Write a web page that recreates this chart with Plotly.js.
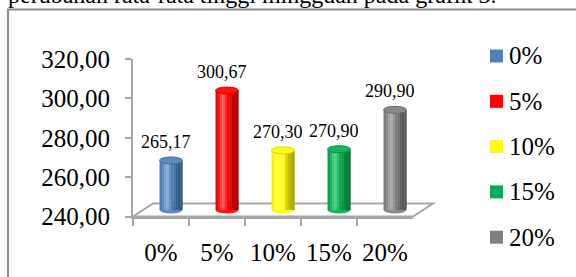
<!DOCTYPE html>
<html>
<head>
<meta charset="utf-8">
<script src="https://cdn.plot.ly/plotly-3.0.1.min.js"></script>
<style>html,body{margin:0;padding:0;background:#fff;}#chart{width:576px;height:277px;}</style>
</head>
<body>
<div id="chart"></div>
<script>
// ---- data ----
const categories = ['0%', '5%', '10%', '15%', '20%'];
const values = [265.17, 300.67, 270.30, 270.90, 290.90];
const seriesColors = ['#4f81bd', '#ff0000', '#ffff00', '#00b050', '#808080'];
const yTickVals = [240, 260, 280, 300, 320];
const headerText = 'perubahan rata-rata tinggi mingguan pada grafik 3.';

// ---- geometry (pixels) ----
const W = 576, H = 277;
const FONT = 'Liberation Serif';
const frontX0 = 133, frontX1 = 413;       // x for -0.5 .. 4.5
const y240 = 216.5, y320 = 59;            // front axis
const depthDX = 20, depthDY = -13;         // floor depth
const barDX = depthDX / 2, barDY = depthDY / 2;
const yMin = 240, yMax = 320;
const sy = (y240 - y320) / (yMax - yMin);  // px per unit
const px = p => p / W;
const py = p => 1 - p / H;

const y2Lo = 230, y2Hi = 330;
const b240 = y240 + barDY;
const y2LoPx = b240 + (yMin - y2Lo) * sy;
const y2HiPx = b240 - (y2Hi - yMin) * sy;

function hexToRgb(h) { h = h.replace('#', ''); return [0, 2, 4].map(i => parseInt(h.substr(i, 2), 16)); }
function mix(c, target, a) {
  const r = hexToRgb(c), t = hexToRgb(target);
  return 'rgb(' + r.map((v, i) => Math.round(v + (t[i] - v) * a)).join(',') + ')';
}
function shade(c, t) {
  const light = Math.max(0, 1 - Math.abs(t - 0.33) / 0.33) * 0.35;
  const dark = Math.max(0, (t - 0.33) / 0.67) * 0.38 + Math.max(0, (0.33 - t) / 0.33) * 0.12;
  if (light > dark) return mix(c, '#ffffff', light - dark);
  return mix(c, '#000000', dark - light);
}

const barW = 0.41, N = 10;
const traces = [];
for (let k = 0; k < N; k++) {
  const t = (k + 0.5) / N;
  traces.push({
    type: 'bar', xaxis: 'x2', yaxis: 'y2',
    x: categories,
    y: values.map(v => v - yMin),
    base: yMin,
    offset: -barW / 2 + k * barW / N,
    width: barW / N * 1.08,
    marker: { color: seriesColors.map(c => shade(c, t)), line: { width: 0 } },
    showlegend: false, hoverinfo: 'skip'
  });
}
traces.unshift({ type: 'scatter', x: categories, y: values, mode: 'none', showlegend: false, hoverinfo: 'skip' });

const e = 3.5 / sy;
const shapes = [];
const fl = [frontX0, y240], fr = [frontX1, y240], br = [frontX1 + depthDX, y240 + depthDY], bl = [frontX0 + depthDX, y240 + depthDY];
shapes.push({
  type: 'path', xref: 'paper', yref: 'paper', layer: 'below',
  path: 'M' + px(fl[0]) + ',' + py(fl[1]) + ' L' + px(fr[0]) + ',' + py(fr[1]) + ' L' + px(br[0]) + ',' + py(br[1]) + ' L' + px(bl[0]) + ',' + py(bl[1]) + ' Z',
  fillcolor: '#ffffff', line: { color: '#a6a6a6', width: 2 }
});
values.forEach((v, i) => {
  const c = seriesColors[i];
  shapes.push({
    type: 'circle', xref: 'x2', yref: 'y2', layer: 'below',
    x0: i - barW / 2, x1: i + barW / 2, y0: yMin - e, y1: yMin + e,
    fillcolor: shade(c, 0.5), line: { width: 0 }
  });
  shapes.push({
    type: 'circle', xref: 'x2', yref: 'y2', layer: 'above',
    x0: i - barW / 2, x1: i + barW / 2, y0: v - e, y1: v + e,
    fillcolor: mix(c, '#ffffff', 0.08), line: { color: mix(c, '#000000', 0.15), width: 1 }
  });
});
shapes.push({
  type: 'rect', xref: 'paper', yref: 'paper',
  x0: px(8), x1: 1.05, y0: -0.05, y1: py(9.5),
  line: { color: '#8c8c8c', width: 2 }, fillcolor: 'rgba(0,0,0,0)'
});

const annotations = [];
values.forEach((v, i) => {
  annotations.push({
    xref: 'x2', yref: 'y2', x: i, y: v + e, yanchor: 'bottom', xanchor: 'center',
    xshift: -5, yshift: 3, showarrow: false,
    text: v.toFixed(2).replace('.', ','),
    font: { family: FONT, size: 18, color: '#000' }
  });
});
const legX = 490, legSize = 13, legY0 = 56, legStep = 45.3;
categories.forEach((cat, i) => {
  const cy = legY0 + i * legStep;
  shapes.push({
    type: 'rect', xref: 'paper', yref: 'paper',
    x0: px(legX), x1: px(legX + legSize), y0: py(cy + legSize / 2), y1: py(cy - legSize / 2),
    fillcolor: seriesColors[i], line: { width: 0 }
  });
  annotations.push({
    xref: 'paper', yref: 'paper', x: px(legX + legSize + 4), y: py(cy),
    xanchor: 'left', yanchor: 'middle', showarrow: false, text: cat,
    font: { family: FONT, size: 25, color: '#000' }
  });
});
annotations.push({
  xref: 'paper', yref: 'paper', x: px(6), y: py(10), xanchor: 'left', yanchor: 'bottom',
  showarrow: false, text: headerText, font: { family: FONT, size: 24, color: '#000' }
});

const layout = {
  width: W, height: H,
  margin: { l: 0, r: 0, t: 0, b: 0 },
  paper_bgcolor: '#ffffff', plot_bgcolor: 'rgba(0,0,0,0)',
  separators: ',.',
  barmode: 'overlay',
  showlegend: false,
  font: { family: FONT, color: '#000' },
  xaxis: {
    domain: [px(frontX0), px(frontX1)], range: [-0.5, 4.5], anchor: 'y',
    type: 'category', categoryarray: categories,
    showline: true, linecolor: '#a6a6a6', linewidth: 2,
    ticks: 'outside', tickson: 'boundaries', ticklen: 7, tickcolor: '#a6a6a6', tickwidth: 2,
    showgrid: false, zeroline: false, ticklabelstandoff: 12,
    tickfont: { family: FONT, size: 25, color: '#000' }
  },
  yaxis: {
    domain: [py(y240), py(y320)], range: [yMin, yMax], anchor: 'x',
    tickvals: yTickVals, tickformat: '.2f',
    showline: true, linecolor: '#a6a6a6', linewidth: 2,
    ticks: 'outside', ticklen: 6, tickcolor: '#a6a6a6', tickwidth: 2,
    showgrid: false, zeroline: false, ticklabelstandoff: 10,
    tickfont: { family: FONT, size: 25, color: '#000' }
  },
  xaxis2: {
    domain: [px(frontX0 + barDX), px(frontX1 + barDX)], range: [-0.5, 4.5], anchor: 'y2',
    type: 'category', categoryarray: categories, visible: false
  },
  yaxis2: {
    domain: [py(y2LoPx), py(y2HiPx)], range: [y2Lo, y2Hi], anchor: 'x2', visible: false
  },
  shapes: shapes,
  annotations: annotations
};

Plotly.newPlot('chart', traces, layout, { staticPlot: true, displayModeBar: false });
</script>
</body>
</html>
